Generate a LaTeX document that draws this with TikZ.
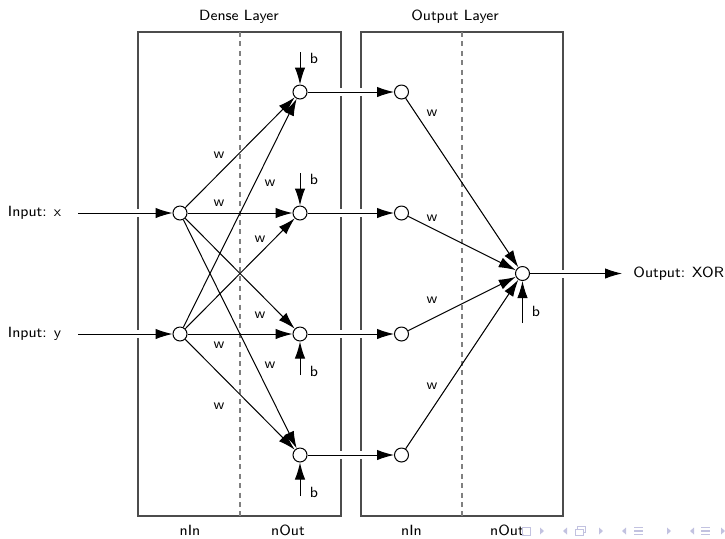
\documentclass[tikz,border=0pt]{standalone}
\usetikzlibrary{arrows.meta}
\pgfdeclarelayer{bg}
\pgfdeclarelayer{mid}
\pgfsetlayers{bg,mid,main}
\definecolor{navc}{rgb}{0.76,0.76,0.88}
\begin{document}
\begin{tikzpicture}[x=0.5pt,y=-0.5pt,
  every node/.style={font=\sffamily\fontsize{7.4}{8.9}\selectfont},
  neuron/.style={circle,draw,line width=0.5pt,fill=white,minimum size=7pt,inner sep=0pt},
  conn/.style={-{Latex[length=8.5pt,width=5.2pt]},line width=0.5pt},
  gapped/.style={preaction={draw=white,line width=4pt,-}},
  layerbox/.style={draw=black!70,line width=0.6pt},
  divider/.style={draw=black!50,line width=0.7pt,dash pattern=on 2.5pt off 2.2pt},
  wlab/.style={inner sep=0pt},
  navtri/.style={fill=navc}
]
\useasboundingbox (0,0) rectangle (725,538);

% neurons
\node[neuron] (ix) at (180,213) {};
\node[neuron] (iy) at (180,334) {};
\node[neuron] (d1) at (300,92) {};
\node[neuron] (d2) at (300,213) {};
\node[neuron] (d3) at (300,334) {};
\node[neuron] (d4) at (300,455) {};
\node[neuron] (o1) at (401.5,92) {};
\node[neuron] (o2) at (401.5,213) {};
\node[neuron] (o3) at (401.5,334) {};
\node[neuron] (o4) at (401.5,455) {};
\node[neuron] (f) at (522.5,273.5) {};

% texts
\node (tdense) at (239,17) {Dense Layer};
\node (tout) at (455,17) {Output Layer};
\node (nin1) at (190,530) {nIn};
\node (nout1) at (288,530) {nOut};
\node (nin2) at (411.5,530) {nIn};
\node (nout2) at (507,530) {nOut};
\node (lx) at (34.5,213) {Input: x};
\node (ly) at (34.5,334) {Input: y};
\node[anchor=west,inner sep=0pt] (lout) at (633,273.5) {Output: XOR};

\coordinate (xin) at (78,213);
\coordinate (yin) at (78,334);
\coordinate (fout) at (622,273.5);
\coordinate (b1) at (300,52);
\coordinate (b2) at (300,173);
\coordinate (b3) at (300,375);
\coordinate (b4) at (300,496);
\coordinate (b5) at (522.5,323);
\node[wlab] (lb1) at (314,58) {b};
\node[wlab] (lb2) at (314,179) {b};
\node[wlab] (lb3) at (314,371) {b};
\node[wlab] (lb4) at (314,492) {b};
\node[wlab] (lb5) at (536,311) {b};

% weights
\node[wlab] (w1) at (219,155) {w};
\node[wlab] (w2) at (270,183) {w};
\node[wlab] (w3) at (219,203) {w};
\node[wlab] (w4) at (260,239) {w};
\node[wlab] (w5) at (260,315) {w};
\node[wlab] (w6) at (219,345) {w};
\node[wlab] (w7) at (270,365) {w};
\node[wlab] (w8) at (219,406) {w};
\node[wlab] (w9) at (432,113) {w};
\node[wlab] (w10) at (432,218) {w};
\node[wlab] (w11) at (432,300) {w};
\node[wlab] (w12) at (432,386) {w};

\begin{pgfonlayer}{bg}
  \draw[layerbox] (138,32) rectangle (341,516);
  \draw[layerbox] (361,32) rectangle (563,516);
  \draw[divider] (240,32) -- (240,516);
  \draw[divider] (462,32) -- (462,516);
\end{pgfonlayer}

\begin{pgfonlayer}{mid}
  \draw[conn,gapped] (xin) -- (ix);
  \draw[conn,gapped] (yin) -- (iy);
  \foreach \s in {ix,iy}{
    \foreach \t in {d1,d2,d3,d4}{
      \draw[conn] (\s) -- (\t);
    }
  }
  \draw[conn,gapped] (d1) -- (o1);
  \draw[conn,gapped] (d2) -- (o2);
  \draw[conn,gapped] (d3) -- (o3);
  \draw[conn,gapped] (d4) -- (o4);
  \foreach \s in {o1,o2,o3,o4}{
    \draw[conn] (\s) -- (f);
  }
  \draw[conn,gapped] (f) -- (fout);
  \draw[conn] (b1) -- (d1);
  \draw[conn] (b2) -- (d2);
  \draw[conn] (b3) -- (d3);
  \draw[conn] (b4) -- (d4);
  \draw[conn] (b5) -- (f);
\end{pgfonlayer}

% navigation symbols
\draw[navc,line width=0.4pt] (522,527) rectangle (530,535);
\foreach \x in {542,601,669}{
  \fill[navtri] (\x-2,527.5) -- (\x+2,531) -- (\x-2,534.5) -- cycle;
}
\foreach \x in {565,624,692}{
  \fill[navtri] (\x+2,527.5) -- (\x-2,531) -- (\x+2,534.5) -- cycle;
}
\draw[navc,line width=0.4pt,fill=white] (577,526) rectangle (585,532.5);
\draw[navc,line width=0.4pt,fill=white] (575,529) rectangle (583,535.5);
\foreach \x in {634,701}{
  \draw[navc,line width=0.6pt] (\x,527.5) -- (\x+9,527.5);
  \draw[navc,line width=0.6pt] (\x,531) -- (\x+9,531);
  \draw[navc,line width=0.6pt] (\x,534.5) -- (\x+9,534.5);
}
\fill[navtri] (721,527.5) -- (725,531) -- (721,534.5) -- cycle;
\end{tikzpicture}
\end{document}
